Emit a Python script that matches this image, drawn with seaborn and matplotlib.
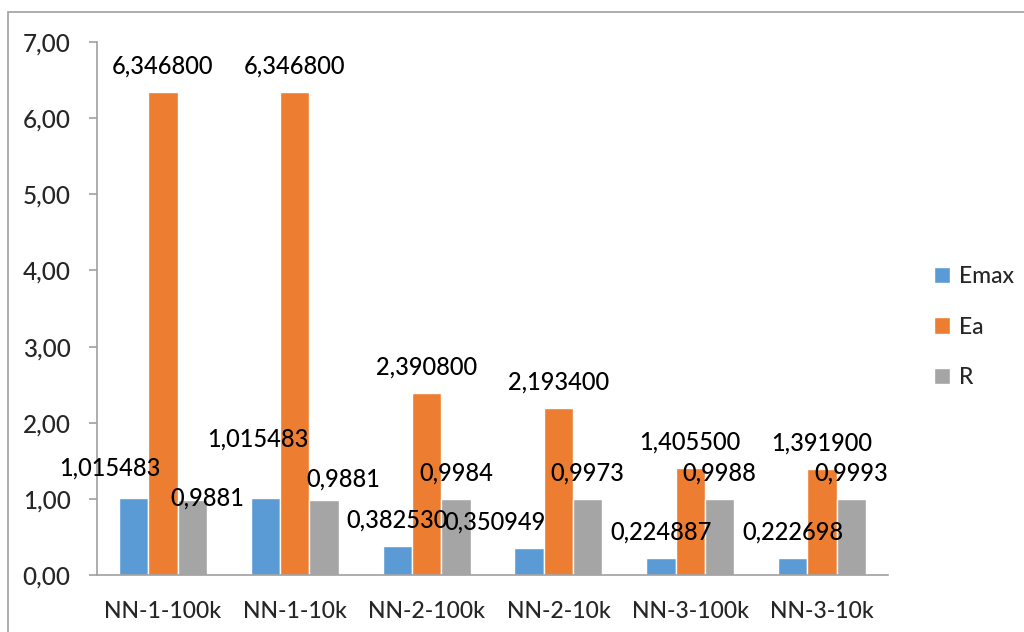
import pandas as pd
import seaborn as sns
import matplotlib.pyplot as plt
from matplotlib.patches import Rectangle

categorias = ['NN-1-100k', 'NN-1-10k', 'NN-2-100k', 'NN-2-10k', 'NN-3-100k', 'NN-3-10k']
emax = [1.015483, 1.015483, 0.382530, 0.350949, 0.224887, 0.222698]
ea = [6.346800, 6.346800, 2.390800, 2.193400, 1.405500, 1.391900]
r = [0.9881, 0.9881, 0.9984, 0.9973, 0.9988, 0.9993]
series = ['Emax', 'Ea', 'R']
casas = {'Emax': 6, 'Ea': 6, 'R': 4}
cores = ['#5B9BD5', '#ED7D31', '#A5A5A5']
yticks = [0, 1, 2, 3, 4, 5, 6, 7]

df = pd.DataFrame({'Modelo': categorias * 3,
                   'Serie': [s for s in series for _ in categorias],
                   'Valor': emax + ea + r})

sns.set_style('white')
plt.rcParams['font.family'] = ['Lato', 'DejaVu Sans']
plt.rcParams['font.weight'] = 'medium'

fig = plt.figure(figsize=(10.24, 6.32), dpi=100)
ax = fig.add_axes([97 / 1024, 1 - 575 / 632, 791 / 1024, 533 / 632])

# moldura do grafico
fig.patches.append(Rectangle((8 / 1024, -0.05), 1.2, 1 - 12 / 632 + 0.05, transform=fig.transFigure,
                             fill=False, edgecolor='#A0A0A0', linewidth=1.2))

sns.barplot(data=df, x='Modelo', y='Valor', hue='Serie', hue_order=series, palette=cores,
            width=0.667, saturation=1, ax=ax, legend=True)

# deslocamentos dos rotulos (px) que o Excel moveu
desloc = {('Emax', 0): (-24, 30), ('R', 0): (15, 2), ('Emax', 1): (-8, 59),
          ('R', 1): (19, 21), ('Emax', 3): (-34, 26)}
for s, cont in zip(series, ax.containers):
    for i, bar in enumerate(cont):
        v = bar.get_height()
        dx, dy = desloc.get((s, i), (0, 26))
        txt = f'{v:.{casas[s]}f}'.replace('.', ',')
        ax.annotate(txt, (bar.get_x() + bar.get_width() / 2, v), xytext=(dx * 0.72, dy * 0.72),
                    textcoords='offset points', ha='center', va='center', fontsize=17, color='black')

ax.set_ylim(0, 7)
ax.set_xlim(-0.5, 5.5)
ax.set_yticks(yticks)
ax.set_yticklabels([f'{t:.2f}'.replace('.', ',') for t in yticks], fontsize=17.5)
ax.set_xticks(range(len(categorias)))
ax.set_xticklabels(categorias, fontsize=16.5)
ax.set_xticks([i - 0.5 for i in range(len(categorias) + 1)], minor=True)
ax.tick_params(axis='x', which='major', length=0, pad=19)
ax.tick_params(axis='x', which='minor', length=6, width=1.2, color='#A0A0A0', direction='out')
ax.tick_params(axis='y', length=6, width=1.2, color='#A0A0A0', direction='out', pad=13, left=True)
ax.set_xlabel('')
ax.set_ylabel('')
for lado in ['top', 'right']:
    ax.spines[lado].set_visible(False)
for lado in ['left', 'bottom']:
    ax.spines[lado].set_color('#A0A0A0')
    ax.spines[lado].set_linewidth(1.2)

leg = ax.legend(loc='center left', bbox_to_anchor=(925 / 1024, 1 - 327 / 632), bbox_transform=fig.transFigure,
                frameon=False, fontsize=16.5, handlelength=0.7, handleheight=0.7, handletextpad=0.4,
                labelspacing=1.3, borderaxespad=0)

fig.savefig('out.png', dpi=100)
